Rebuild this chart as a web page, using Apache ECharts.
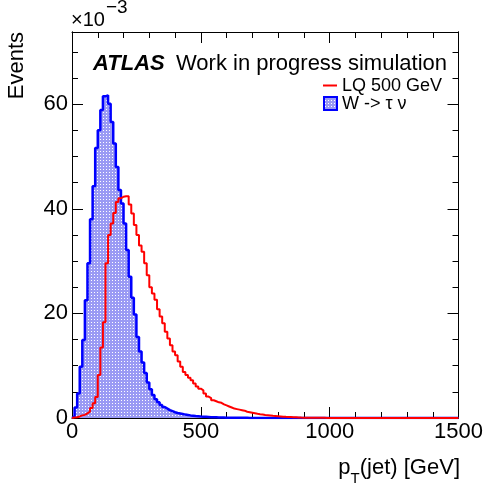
<!DOCTYPE html>
<html>
<head>
<meta charset="utf-8">
<title>pT(jet)</title>
<script src="https://cdn.jsdelivr.net/npm/echarts@6/dist/echarts.min.js"></script>
</head>
<body style="margin:0;background:#fff">
<div id="main" style="width:486px;height:487px"></div>
<script>
// bin width in GeV, histograms start at 0
var binWidth = 10;
// Events per bin, in units of 1e-3 (the axis shows x10^-3)
var lqValues = [
    0.1, 0.15, 0.3, 0.5, 0.6, 0.9, 1.2, 1.9, 2.8, 4.0,
    8.2, 13.5, 18.3, 29.6, 35.0, 37.2, 39.2, 41.3, 42.0, 42.3,
    42.4, 42.4, 40.8, 39.1, 36.9, 35.0, 33.0, 31.8, 29.6, 27.3,
    25.0, 23.8, 22.6, 20.8, 19.4, 18.1, 16.5, 15.2, 13.9, 12.7,
    12.0, 10.8, 9.8, 8.8, 8.2, 7.7, 7.2, 6.6, 6.0, 5.6,
    5.3, 4.7, 4.1, 3.8, 3.4, 3.2, 3.0, 2.9, 2.6, 2.4,
    2.2, 2.0, 1.8, 1.7, 1.6, 1.5, 1.4, 1.2, 1.1, 1.0,
    0.9, 0.8, 0.72, 0.65, 0.57, 0.52, 0.47, 0.42, 0.38, 0.34,
    0.3, 0.26, 0.22, 0.2, 0.17, 0.14, 0.12, 0.1, 0.08, 0.07,
    0.06, 0.05, 0.05, 0.04, 0.04, 0.03, 0.03, 0.03, 0.02, 0.02,
    0.02, 0.02, 0.02, 0.01, 0.01, 0.01, 0.01, 0.01, 0.01, 0.01,
    0.01, 0.01, 0.01, 0.01, 0.01, 0.01, 0.01, 0, 0.01, 0,
    0, 0.01, 0, 0, 0.01, 0, 0, 0, 0, 0,
    0, 0, 0, 0, 0, 0, 0, 0, 0, 0,
    0, 0, 0, 0, 0, 0, 0, 0, 0, 0
];
var wValues = [
    0.3, 2.0, 4.7, 9.8, 14.9, 22.5, 29.6, 38.0, 44.3, 51.6,
    55.0, 58.9, 61.5, 61.7, 60.1, 56.6, 52.5, 48.0, 43.6, 41.0,
    37.2, 32.1, 27.0, 23.0, 19.8, 15.5, 12.7, 10.6, 8.6, 6.8,
    5.5, 4.4, 3.6, 3.0, 2.5, 2.1, 1.8, 1.5, 1.3, 1.1,
    0.95, 0.85, 0.75, 0.65, 0.58, 0.5, 0.44, 0.38, 0.33, 0.28,
    0.25, 0.22, 0.19, 0.16, 0.14, 0.12, 0.1, 0.09, 0.08, 0.07,
    0.06, 0.05, 0.05, 0.04, 0.04, 0.03, 0.03, 0.03, 0.02, 0.02,
    0.02, 0.02, 0.01, 0.01, 0.01, 0.01, 0.01, 0.01, 0.01, 0.01,
    0.01, 0.01, 0.01, 0, 0.01, 0, 0, 0.01, 0, 0,
    0, 0, 0, 0, 0, 0, 0, 0, 0, 0,
    0, 0, 0, 0, 0, 0, 0, 0, 0, 0,
    0, 0, 0, 0, 0, 0, 0, 0, 0, 0,
    0, 0, 0, 0, 0, 0, 0, 0, 0, 0,
    0, 0, 0, 0, 0, 0, 0, 0, 0, 0,
    0, 0, 0, 0, 0, 0, 0, 0, 0, 0
];
var xTicks = [0, 500, 1000, 1500];
var yTicks = [0, 20, 40, 60];
var yMax = 73.8;
var seriesNames = ['LQ 500 GeV', 'W -> \u03c4 \u03bd'];

var FONT = '"Liberation Sans", Arial, Helvetica, sans-serif';

// step outline of a histogram: closed down to zero at both ends
function histPoints(vals) {
    var pts = [[0, 0]];
    for (var i = 0; i < vals.length; i++) {
        pts.push([i * binWidth, vals[i]]);
    }
    pts.push([vals.length * binWidth, vals[vals.length - 1]]);
    pts.push([vals.length * binWidth, 0]);
    return pts;
}

// dotted ROOT-like fill
var pat = document.createElement('canvas');
pat.width = 3;
pat.height = 3;
var pctx = pat.getContext('2d');
pctx.fillStyle = '#9a9af4';
pctx.fillRect(0, 0, 3, 3);
pctx.fillStyle = '#ffffff';
pctx.fillRect(1, 1, 1, 1);
var fillPattern = { image: pat, repeat: 'repeat' };

var xStep = xTicks[1] - xTicks[0];
var yStep = yTicks[1] - yTicks[0];
var black = { color: '#000', width: 1 };

function plain(v) {
    return String(v);
}

function xAxisDef(pos, labels) {
    return {
        type: 'value', position: pos, min: xTicks[0], max: xTicks[xTicks.length - 1], interval: xStep,
        axisLine: { show: true, onZero: false, lineStyle: black },
        axisTick: { show: true, inside: true, length: 11, lineStyle: black },
        minorTick: { show: true, splitNumber: 5, length: 6, lineStyle: black },
        splitLine: { show: false },
        axisLabel: { show: labels, margin: 3, fontSize: 22, fontFamily: FONT, color: '#000', formatter: plain }
    };
}

function yAxisDef(pos, interval, tickLen, labels) {
    return {
        type: 'value', position: pos, min: 0, max: yMax, interval: interval,
        axisLine: { show: true, onZero: false, lineStyle: black },
        axisTick: { show: true, inside: true, length: tickLen, lineStyle: black },
        splitLine: { show: false },
        axisLabel: { show: labels, showMaxLabel: false, margin: 4, fontSize: 22, fontFamily: FONT, color: '#000', formatter: plain }
    };
}

var chart = echarts.init(document.getElementById('main'));

// measure text widths for the axis title pieces
var mctx = document.createElement('canvas').getContext('2d');
function textWidth(str, font) {
    mctx.font = font;
    return mctx.measureText(str).width;
}
var titleRight = 460;
var wRest = textWidth('(jet) [GeV]', '22px ' + FONT);
var wSub = textWidth('T', '15px ' + FONT);
var wTimes = textWidth('\u00d710', '20px ' + FONT);

var option = {
    animation: false,
    backgroundColor: '#fff',
    grid: { left: 72, right: 26, top: 32, bottom: 69 },
    xAxis: [xAxisDef('bottom', true), xAxisDef('top', false)],
    yAxis: [
        yAxisDef('left', yStep, 11, true),
        yAxisDef('right', yStep, 11, false),
        yAxisDef('left', 5, 6, false),
        yAxisDef('right', 5, 6, false)
    ],
    series: [{
        name: seriesNames[1],
        type: 'line',
        step: 'end',
        symbol: 'none',
        silent: true,
        data: histPoints(wValues),
        lineStyle: { color: '#0000ff', width: 2.5 },
        areaStyle: { color: fillPattern, opacity: 1 },
        z: 2
    }, {
        name: seriesNames[0],
        type: 'line',
        step: 'end',
        symbol: 'none',
        silent: true,
        data: histPoints(lqValues),
        lineStyle: { color: '#ff0000', width: 2 },
        z: 3
    }],
    graphic: [
        // x10^-3 exponent
        { type: 'text', x: 71, y: 20, style: { text: '\u00d710', font: '20px ' + FONT, fill: '#000', textVerticalAlign: 'middle' } },
        { type: 'text', x: 71 + wTimes + 1, y: 8, style: { text: '\u22123', font: '19px ' + FONT, fill: '#000', textVerticalAlign: 'middle' } },
        // y title
        { type: 'text', x: 17, y: 32, rotation: Math.PI / 2,
          style: { text: 'Events', font: '22px ' + FONT, fill: '#000', textAlign: 'right', textVerticalAlign: 'middle' } },
        // x title: p_T(jet) [GeV]
        { type: 'text', x: titleRight, y: 468, style: { text: '(jet) [GeV]', font: '22px ' + FONT, fill: '#000', textAlign: 'right', textVerticalAlign: 'middle' } },
        { type: 'text', x: titleRight - wRest, y: 479, style: { text: 'T', font: '15px ' + FONT, fill: '#000', textAlign: 'right', textVerticalAlign: 'middle' } },
        { type: 'text', x: titleRight - wRest - wSub, y: 468, style: { text: 'p', font: '22px ' + FONT, fill: '#000', textAlign: 'right', textVerticalAlign: 'middle' } },
        // label
        { type: 'text', x: 93, y: 64, style: { text: 'ATLAS', font: 'italic bold 22px ' + FONT, fill: '#000', textVerticalAlign: 'middle' } },
        { type: 'text', x: 176, y: 64, style: { text: 'Work in progress simulation', font: '22px ' + FONT, fill: '#000', textVerticalAlign: 'middle' } },
        // legend
        { type: 'line', shape: { x1: 323, y1: 85.5, x2: 337, y2: 85.5 }, style: { stroke: '#ff0000', lineWidth: 2 } },
        { type: 'text', x: 342, y: 86, style: { text: seriesNames[0], font: '18px ' + FONT, fill: '#000', textVerticalAlign: 'middle' } },
        { type: 'rect', shape: { x: 324, y: 97, width: 13, height: 13 }, style: { fill: fillPattern, stroke: '#0000ff', lineWidth: 2 } },
        { type: 'text', x: 342, y: 104, style: { text: seriesNames[1], font: '18px ' + FONT, fill: '#000', textVerticalAlign: 'middle' } }
    ]
};
chart.setOption(option);
</script>
</body>
</html>
